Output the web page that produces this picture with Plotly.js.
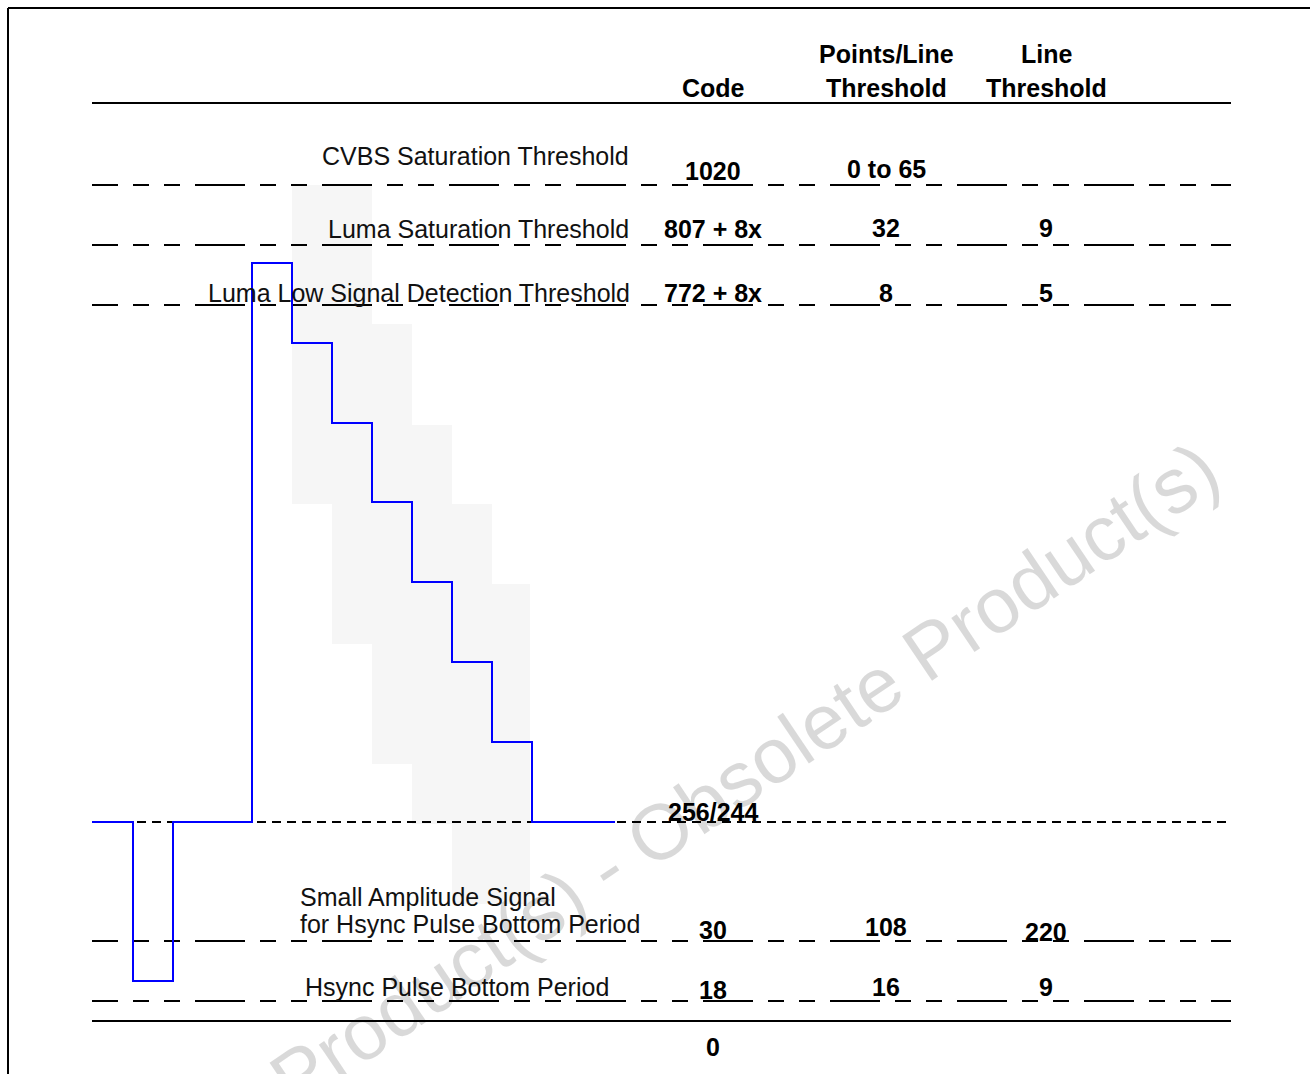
<!DOCTYPE html>
<html><head><meta charset="utf-8">
<script src="https://cdn.plot.ly/plotly-3.0.1.min.js"></script>
<style>html,body{margin:0;padding:0;background:#fff;overflow:hidden}#chart{width:1310px;height:1074px}</style>
</head><body><div id="chart"></div>
<script>
// ---------- data ----------
const headerTop = ['', 'Points/Line', 'Line'];
const headerBottom = ['Code', 'Threshold', 'Threshold'];
const rowLabels = [
  ['CVBS Saturation Threshold'],
  ['Luma Saturation Threshold'],
  ['Luma Low Signal Detection Threshold'],
  ['Small Amplitude Signal', 'for Hsync Pulse Bottom Period'],
  ['Hsync Pulse Bottom Period']
];
const rowCodes = ['1020', '807 + 8x', '772 + 8x', '30', '18'];
const rowPointsPerLine = ['0 to 65', '32', '8', '108', '16'];
const rowLineThreshold = ['', '9', '5', '220', '9'];
const rowLevels = [185, 245, 305, 941, 1001];   // diagram level of each threshold
const blankCode = '256/244';
const blankLevel = 822;
const zeroCode = '0';
const zeroLevel = 1021;

// waveform: time / level (diagram units)
const waveTime  = [92, 133, 173, 252, 292, 332, 372, 412, 452, 492, 532, 615];
const waveLevel = [822, 981, 822, 263, 343, 423, 502, 582, 662, 742, 822, 822];

// shaded band behind the staircase
const shadeStart  = [292, 332, 372, 412, 452, 492];
const shadeEnd    = [332, 372, 412, 452, 492, 530];
const shadeTop    = [185, 185, 324, 425, 504, 584];
const shadeBottom = [504, 644, 764, 824, 904, 904];

const watermark = 'Obsolete Product(s) - Obsolete Product(s)';

// ---------- layout helpers ----------
const X0 = 92, X1 = 1231;
const colX = [713, 886, 1046];
const headerY = [54, 88];
const labelX = [631, 631, 632, 298, 303];
const labelAnchor = ['right', 'right', 'right', 'left', 'left'];
const labelDy = [[-29], [-16], [-12], [-44, -17], [-14]];
const codeDy = [-14, -16, -12, -11, -11];
const pplDy = [-16, -17, -12, -14, -14];
const lineDy = [0, -17, -12, -9, -14];
const FONT = 'Liberation Sans, Arial, Helvetica, sans-serif';
const FS = 25;
const dashRow = '26px,15px,16px,15px,16px,15px,24px,0px';

const traces = [];
// shaded band as bars
traces.push({
  type: 'bar',
  x: shadeStart.map((s, i) => (s + shadeEnd[i]) / 2),
  width: shadeStart.map((s, i) => shadeEnd[i] - s),
  base: shadeTop,
  y: shadeBottom.map((b, i) => b - shadeTop[i]),
  marker: {color: '#f6f6f6', line: {width: 0}},
  hoverinfo: 'skip', showlegend: false
});
// header rule and zero line
[103, zeroLevel].forEach(lv => traces.push({
  type: 'scatter', mode: 'lines', x: [X0, X1], y: [lv, lv],
  line: {color: '#000', width: 2}, hoverinfo: 'skip', showlegend: false
}));
// threshold lines
rowLevels.forEach(lv => traces.push({
  type: 'scatter', mode: 'lines', x: [X0, X1], y: [lv, lv],
  line: {color: '#000', width: 2, dash: dashRow}, hoverinfo: 'skip', showlegend: false
}));
// blanking level
traces.push({
  type: 'scatter', mode: 'lines', x: [X0, X1], y: [blankLevel, blankLevel],
  line: {color: '#000', width: 2, dash: '9px,6px'}, hoverinfo: 'skip', showlegend: false
});
// waveform
traces.push({
  type: 'scatter', mode: 'lines', x: waveTime, y: waveLevel,
  line: {color: '#0000ff', width: 2, shape: 'hv'}, hoverinfo: 'skip', showlegend: false
});

const ann = [];
function txt(text, x, y, opts) {
  ann.push(Object.assign({
    text: text, x: x, y: y, xref: 'x', yref: 'y', showarrow: false,
    xanchor: 'center', yanchor: 'middle',
    font: {family: FONT, size: FS, color: '#000'}
  }, opts || {}));
}
const bold = t => '<b>' + t + '</b>';
headerTop.forEach((t, i) => { if (t) txt(bold(t), colX[i], headerY[0]); });
headerBottom.forEach((t, i) => txt(bold(t), colX[i], headerY[1]));
rowLabels.forEach((lines, r) => lines.forEach((t, k) =>
  txt(t, labelX[r], rowLevels[r] + labelDy[r][k], {xanchor: labelAnchor[r], font: {family: FONT, size: FS, color: '#111'}})));
rowCodes.forEach((t, r) => txt(bold(t), colX[0], rowLevels[r] + codeDy[r]));
rowPointsPerLine.forEach((t, r) => txt(bold(t), colX[1], rowLevels[r] + pplDy[r]));
rowLineThreshold.forEach((t, r) => { if (t) txt(bold(t), colX[2], rowLevels[r] + lineDy[r]); });
txt(bold(blankCode), colX[0], blankLevel - 10);
txt(bold(zeroCode), colX[0], zeroLevel + 26);
// watermark
txt(watermark, 606, 868, {textangle: -34, font: {family: FONT, size: 78, color: 'rgba(0,0,0,0.15)'}});

const layout = {
  width: 1310, height: 1074,
  margin: {l: 0, r: 0, t: 0, b: 0, pad: 0},
  paper_bgcolor: '#fff', plot_bgcolor: '#fff',
  xaxis: {range: [0, 1310], visible: false, fixedrange: true},
  yaxis: {range: [1074, 0], visible: false, fixedrange: true},
  bargap: 0, barmode: 'overlay',
  showlegend: false,
  annotations: ann,
  shapes: [
    {type: 'line', xref: 'x', yref: 'y', x0: 8, x1: 1310, y0: 8, y1: 8, line: {color: '#000', width: 2}},
    {type: 'line', xref: 'x', yref: 'y', x0: 8, x1: 8, y0: 8, y1: 1074, line: {color: '#000', width: 2}}
  ]
};
Plotly.newPlot('chart', traces, layout, {displayModeBar: false, staticPlot: true});
</script></body></html>
